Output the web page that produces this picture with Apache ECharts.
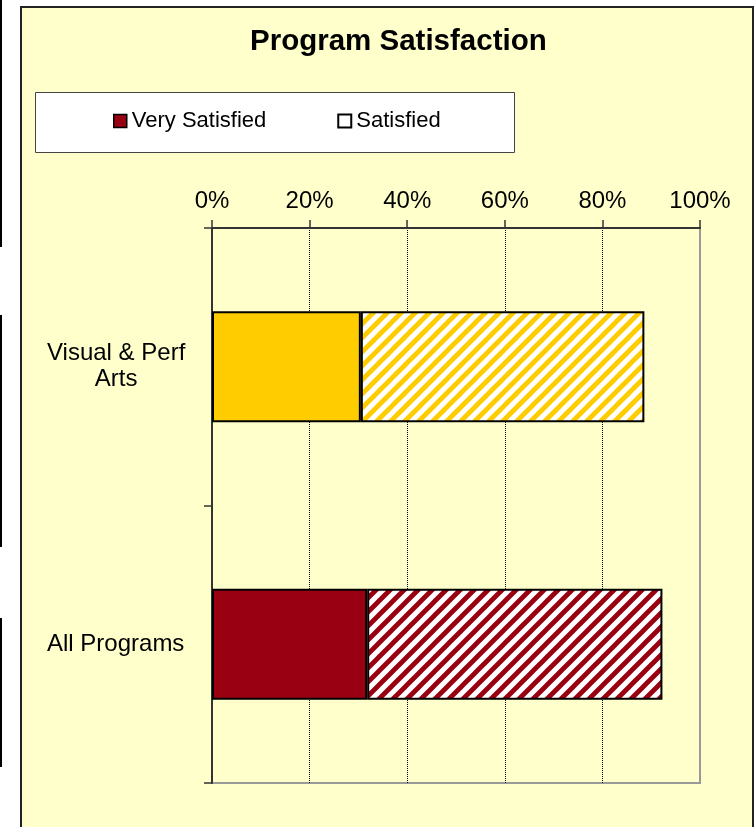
<!DOCTYPE html>
<html>
<head>
<meta charset="utf-8">
<script src="https://cdn.jsdelivr.net/npm/echarts@6/dist/echarts.min.js"></script>
<style>
html,body{margin:0;padding:0;background:#fff;}
#chart{width:755px;height:827px;}
</style>
</head>
<body>
<div id="chart"></div>
<script>
// ---- data ----
const categories = ['Visual & Perf\nArts', 'All Programs'];
const verySatisfied = [30.5, 31.8];
const satisfied = [58.1, 60.5];
const categoryColors = ['#FFCC00', '#990012'];
const seriesNames = ['Very Satisfied', 'Satisfied'];
const titleText = 'Program Satisfaction';

const FONT = "'Liberation Sans', Arial, sans-serif";

function stripe(color) {
  const P = 14;
  const c = document.createElement('canvas');
  c.width = P; c.height = P;
  const g = c.getContext('2d');
  g.fillStyle = '#ffffff';
  g.fillRect(0, 0, P, P);
  g.strokeStyle = color;
  g.lineWidth = 4.8;
  g.beginPath();
  g.moveTo(-P, P); g.lineTo(P, -P);
  g.moveTo(0, P); g.lineTo(P, 0);
  g.moveTo(0, 2 * P); g.lineTo(2 * P, 0);
  g.stroke();
  return { image: c, repeat: 'repeat' };
}

const chart = echarts.init(document.getElementById('chart'), null, { renderer: 'canvas' });

const option = {
  backgroundColor: '#ffffff',
  animation: false,
  textStyle: { fontFamily: FONT },
  graphic: [
    { type: 'rect', z: -10, shape: { x: 0, y: 0, width: 2, height: 247 }, style: { fill: '#000' } },
    { type: 'rect', z: -10, shape: { x: 0, y: 315, width: 2, height: 232 }, style: { fill: '#000' } },
    { type: 'rect', z: -10, shape: { x: 0, y: 618, width: 2, height: 149 }, style: { fill: '#000' } },
    { type: 'rect', z: -10, shape: { x: 21, y: 7, width: 732, height: 840 }, style: { fill: '#FFFFCC', stroke: '#222', lineWidth: 2 } },
    { type: 'rect', z: -9, shape: { x: 35.5, y: 92.5, width: 479, height: 60 }, style: { fill: '#ffffff', stroke: '#444', lineWidth: 1 } }
  ],
  title: {
    text: titleText,
    left: 250,
    top: 27,
    padding: 0,
    textStyle: { fontFamily: FONT, fontSize: 29.5, fontWeight: 'bold', color: '#000' }
  },
  legend: {
    left: 113,
    top: 110,
    padding: 0,
    icon: 'rect',
    itemWidth: 13,
    itemHeight: 13,
    itemGap: 71,
    textStyle: { fontFamily: FONT, fontSize: 22, color: '#000' },
    data: [
      { name: seriesNames[0], itemStyle: { color: '#990012', borderColor: '#000', borderWidth: 1.5 } },
      { name: seriesNames[1], itemStyle: { color: '#ffffff', borderColor: '#000', borderWidth: 2 } }
    ]
  },
  grid: {
    left: 212, right: 55, top: 228, bottom: 44,
    show: true, borderColor: '#999', borderWidth: 2, backgroundColor: 'transparent'
  },
  xAxis: {
    type: 'value',
    position: 'top',
    min: 0, max: 100, interval: 20,
    axisLine: { show: true, lineStyle: { color: '#333', width: 2 } },
    axisTick: { show: true, inside: false, length: 8, lineStyle: { color: '#333', width: 1.5 } },
    axisLabel: { formatter: '{value}%', margin: 15, fontFamily: FONT, fontSize: 24, color: '#000' },
    splitLine: { show: true, lineStyle: { type: [1, 1], color: ['transparent', '#000', '#000', '#000', '#000', 'transparent'], width: 1 } }
  },
  yAxis: {
    type: 'category',
    inverse: true,
    data: categories,
    axisLine: { show: true, lineStyle: { color: '#333', width: 2 } },
    axisTick: { show: true, inside: false, length: 8, lineStyle: { color: '#333', width: 1.5 } },
    axisLabel: {
      margin: 165,
      align: 'left',
      fontFamily: FONT, fontSize: 24, color: '#000',
      lineHeight: 26,
      formatter: function (v) { return v.split('\n').map(function (s) { return '{c|' + s + '}'; }).join('\n'); },
      rich: { c: { fontFamily: FONT, fontSize: 24, color: '#000', align: 'center', lineHeight: 26 } }
    },
    splitLine: { show: false }
  },
  series: [
    {
      name: seriesNames[0],
      type: 'bar',
      stack: 'total',
      barWidth: '40%',
      itemStyle: { color: '#990012', borderColor: '#000', borderWidth: 2 },
      data: verySatisfied.map(function (v, i) { return { value: v, itemStyle: { color: categoryColors[i] } }; })
    },
    {
      name: seriesNames[1],
      type: 'bar',
      stack: 'total',
      barWidth: '40%',
      itemStyle: { color: '#ffffff', borderColor: '#000', borderWidth: 2 },
      data: satisfied.map(function (v, i) { return { value: v, itemStyle: { color: stripe(categoryColors[i]) } }; })
    }
  ]
};
chart.setOption(option);
</script>
</body>
</html>
